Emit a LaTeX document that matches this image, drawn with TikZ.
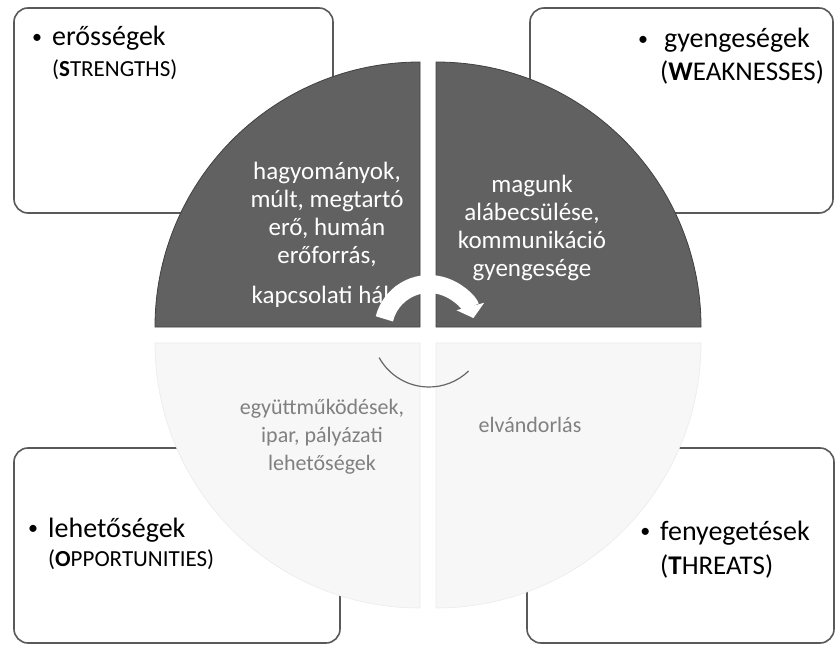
\documentclass[tikz,border=0pt]{standalone}
\usepackage{fontspec}
\setmainfont{Carlito}
\usetikzlibrary{arrows.meta}
\newcommand{\dotmark}[1]{\llap{\raisebox{2.5pt}{\fontsize{20}{20}\selectfont •}\hspace{#1}}}

\begin{document}
\begin{tikzpicture}[x=1pt,y=-1pt,
  box/.style={draw=black!65,line width=1.6pt,rounded corners=14pt,fill=white,inner sep=0pt},
  darkq/.style={fill=black!62,draw=black!75,line width=0.8pt},
  lightq/.style={fill=black!3,draw=black!8,line width=0.6pt},
  head/.style={inner sep=0pt,anchor=base west,font=\fontsize{28}{32}\selectfont},
  sub/.style={inner sep=0pt,anchor=base west},
  intext/.style={align=center,text=white,inner sep=0pt,font=\fontsize{25}{28}\selectfont},
  fadetext/.style={align=center,text=black!50,inner sep=0pt,font=\fontsize{22}{28}\selectfont},
  turn/.style={line width=18pt,white,-{Triangle[length=12pt,width=28pt]}}
]
  \useasboundingbox (0,0) rectangle (837,652);

  \node[box,minimum width=319pt,minimum height=205pt] (strengths) at (173.5,110.5) {};
  \node[box,minimum width=303pt,minimum height=205pt] (weaknesses) at (681.5,110.5) {};
  \node[box,minimum width=326pt,minimum height=195pt] (opportunities) at (177,545.5) {};
  \node[box,minimum width=307pt,minimum height=195pt] (threats) at (680.5,545.5) {};

  \path[darkq] (420,327) -- ++(180:265) arc[start angle=180,end angle=270,radius=265] -- cycle;
  \path[darkq] (436,327) -- ++(270:265) arc[start angle=270,end angle=360,radius=265] -- cycle;
  \path[lightq] (420,343) -- ++(90:265) arc[start angle=90,end angle=180,radius=265] -- cycle;
  \path[lightq] (436,343) -- ++(0:265) arc[start angle=0,end angle=90,radius=265] -- cycle;

  \node[intext] (sdetail) at (327,214) {hagyományok,\\múlt, megtartó\\erő, humán\\erőforrás,};
  \node[intext] (snet) at (327,297) {kapcsolati háló};
  \node[intext] (wdetail) at (532,228) {magunk\\alábecsülése,\\kommunikáció\\gyengesége};
  \node[fadetext] (odetail) at (322,437) {együttműködések,\\ipar, pályázati\\lehetőségek};
  \node[fadetext] (tdetail) at (530,425) {elvándorlás};

  \coordinate (hub) at (429,330);
  \draw[turn] (hub) ++(194:46) arc[start angle=194,end angle=345,radius=46];
  \draw[black!60,line width=1.2pt] (hub) ++(151:57) arc[start angle=151,end angle=46,radius=57];

  \node[head] (sname) at (52,46) {\dotmark{10pt}erősségek};
  \node[sub,font=\fontsize{23}{28}\selectfont] (sen) at (52,77) {(\textbf{S}TRENGTHS)};
  \node[head] (wname) at (664,48) {\dotmark{16pt}gyengeségek};
  \node[sub,font=\fontsize{27}{32}\selectfont] (wen) at (660,81) {(\textbf{W}EAKNESSES)};
  \node[head] (oname) at (48,537) {\dotmark{10pt}lehetőségek};
  \node[sub,font=\fontsize{23}{28}\selectfont] (oen) at (48,566) {(\textbf{O}PPORTUNITIES)};
  \node[head] (tname) at (660,540) {\dotmark{10pt}fenyegetések};
  \node[sub,font=\fontsize{27}{32}\selectfont] (ten) at (660,574) {(\textbf{T}HREATS)};
\end{tikzpicture}
\end{document}
